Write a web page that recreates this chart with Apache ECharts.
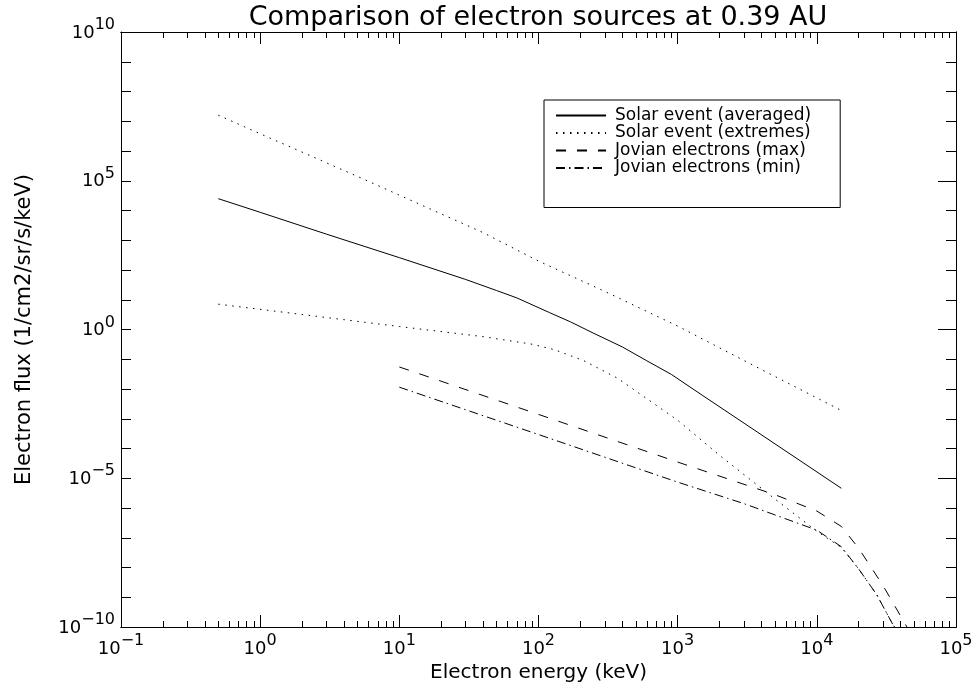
<!DOCTYPE html>
<html>
<head>
<meta charset="utf-8">
<script src="https://cdn.jsdelivr.net/npm/echarts@6/dist/echarts.min.js"></script>
<style>
  html, body { margin: 0; padding: 0; background: #fff; }
  #chart { width: 977px; height: 690px; }
</style>
</head>
<body>
<div id="chart"></div>
<script>
// 数据：值 (energy in keV, flux in 1/cm2/sr/s/keV)
var solarAvgE    = [0.5, 1, 3, 10, 30, 50, 70, 120, 170, 250, 400, 600, 900, 1500, 3000, 15000];
var solarAvgF    = [2.5e4, 8.7e3, 1.6e3, 260, 48, 20.4, 11.5, 3.7, 1.8, 0.74, 0.26, 0.089, 0.031, 6.2e-3, 7.1e-4, 4.6e-6];

var solarHighE   = [0.5, 1, 5, 40, 100, 300, 1000, 4000, 15000];
var solarHighF   = [1.6e7, 3.8e6, 1.4e5, 1.8e3, 200, 19, 1.3, 0.045, 1.9e-3];

var solarLowE    = [0.5, 10, 40, 90, 130, 210, 370, 1000, 2000, 5000, 10000, 15000, 20000, 27000, 35000, 40000];
var solarLowF    = [7.1, 1.26, 0.575, 0.32, 0.21, 0.091, 0.023, 8.9e-4, 5.9e-5, 2.0e-6, 1.66e-7, 4.7e-8, 8.9e-9, 1.2e-9, 1.26e-10, 5e-11];

var jovMaxE      = [10, 100, 1000, 5000, 10000, 15000, 20000, 30000, 45000];
var jovMaxF      = [0.055, 1.4e-3, 3.5e-5, 2.8e-6, 7.9e-7, 2.4e-7, 4.4e-8, 2.4e-9, 9e-11];

var jovMinE      = [10, 100, 1000, 3000, 10000, 15000, 20000, 27000, 35000, 40000];
var jovMinF      = [0.0115, 2.95e-4, 7.4e-6, 1.4e-6, 1.8e-7, 5e-8, 8.9e-9, 1.2e-9, 1.26e-10, 5e-11];

var seriesNames  = ['Solar event (averaged)', 'Solar event (extremes)', 'Jovian electrons (max)', 'Jovian electrons (min)'];

// 刻度
var xMajor = [0.1, 1, 10, 100, 1000, 10000, 100000];
var yMajor = [1e-10, 1e-5, 1, 1e5, 1e10];

var xMinor = [];
for (var k = -1; k < 5; k++) {
  for (var m = 2; m <= 9; m++) xMinor.push(m * Math.pow(10, k));
}
var yMinor = [];
for (var j = -10; j <= 10; j++) yMinor.push(Math.pow(10, j));

var FONT = 'DejaVu Sans';

function pairs(xs, ys) {
  return xs.map(function (x, i) { return [x, ys[i]]; });
}
function powLabel(v) {
  var e = Math.round(Math.log10(v));
  var s = e < 0 ? '\u2212' + (-e) : '' + e;
  return '{b|10}{e|' + s + '}';
}
var labelRich = {
  b: { fontSize: 18, fontFamily: FONT, color: '#000', lineHeight: 18, padding: [8, 0, 0, 0] },
  e: { fontSize: 16, fontFamily: FONT, color: '#000', lineHeight: 18, padding: [0, 0, 8, 0] }
};

function xAxisDef(pos, ticks, len, labels) {
  return {
    type: 'log', logBase: 10, gridIndex: 0, position: pos,
    min: 0.1, max: 1e5, interval: 1,
    axisLine: { show: true, lineStyle: { color: '#000', width: 1 } },
    axisTick: { show: true, inside: true, length: len, customValues: ticks, lineStyle: { color: '#000', width: 1 } },
    axisLabel: labels ? { show: true, customValues: xMajor, margin: 9, formatter: powLabel, rich: labelRich } : { show: false },
    splitLine: { show: false },
    minorTick: { show: false },
    name: labels ? 'Electron energy (keV)' : '',
    nameLocation: 'middle', nameGap: 35,
    nameTextStyle: { fontSize: 20, fontFamily: FONT, color: '#000' }
  };
}
function yAxisDef(pos, ticks, len, labels) {
  return {
    type: 'log', logBase: 10, gridIndex: 0, position: pos,
    min: 1e-10, max: 1e10, interval: 5,
    axisLine: { show: true, lineStyle: { color: '#000', width: 1 } },
    axisTick: { show: true, inside: true, length: len, customValues: ticks, lineStyle: { color: '#000', width: 1 } },
    axisLabel: labels ? { show: true, customValues: yMajor, margin: 6, padding: [0, 0, 6, 0], formatter: powLabel, rich: labelRich } : { show: false },
    splitLine: { show: false },
    minorTick: { show: false },
    name: labels ? 'Electron flux (1/cm2/sr/s/keV)' : '',
    nameLocation: 'middle', nameGap: 86,
    nameTextStyle: { fontSize: 21, fontFamily: FONT, color: '#000' }
  };
}

function lineSeries(name, data, dash) {
  return {
    name: name, type: 'line', xAxisIndex: 0, yAxisIndex: 0,
    data: data, showSymbol: false, symbol: 'none', smooth: false,
    lineStyle: { color: '#000', width: 1, type: dash },
    itemStyle: { color: '#000' },
    emphasis: { disabled: true }
  };
}

var myChart = echarts.init(document.getElementById('chart'), null, { renderer: 'canvas' });
var option = {
  backgroundColor: '#fff',
  animation: false,
  title: {
    text: 'Comparison of electron sources at 0.39 AU',
    left: 538, top: 4, textAlign: 'center', padding: 0,
    textStyle: { fontSize: 27, fontWeight: 'normal', fontFamily: FONT, color: '#000' }
  },
  grid: { left: 121, right: 21, top: 32, bottom: 63, containLabel: false },
  legend: {
    data: seriesNames,
    orient: 'vertical', left: 544, top: 100,
    padding: [7, 29, 31, 11],
    itemWidth: 50, itemHeight: 14, itemGap: 0.5,
    borderColor: '#000', borderWidth: 1, backgroundColor: '#fff',
    selectedMode: false,
    itemStyle: { color: 'rgba(0,0,0,0)', borderWidth: 0, opacity: 0 },
    textStyle: { fontSize: 17, lineHeight: 14, fontFamily: FONT, color: '#000', padding: [0, 0, 0, 4] }
  },
  xAxis: [
    xAxisDef('bottom', xMajor, 12, true),
    xAxisDef('bottom', xMinor, 6, false),
    xAxisDef('top', xMajor, 12, false),
    xAxisDef('top', xMinor, 6, false)
  ],
  yAxis: [
    yAxisDef('left', yMinor, 10, true),
    yAxisDef('right', yMajor, 18, false),
    yAxisDef('right', yMinor, 10, false)
  ],
  series: [
    lineSeries(seriesNames[0], pairs(solarAvgE, solarAvgF), 'solid'),
    lineSeries(seriesNames[1], pairs(solarHighE, solarHighF), [1.5, 5.5]),
    lineSeries(seriesNames[2], pairs(jovMaxE, jovMaxF), [10, 11]),
    lineSeries(seriesNames[3], pairs(jovMinE, jovMinF), [9, 4, 1.5, 4]),
    // 第二条 extremes 曲线（下限），不单独进图例
    lineSeries(seriesNames[1], pairs(solarLowE, solarLowF), [1.5, 5.5])
  ]
};

myChart.setOption(option);
</script>
</body>
</html>
